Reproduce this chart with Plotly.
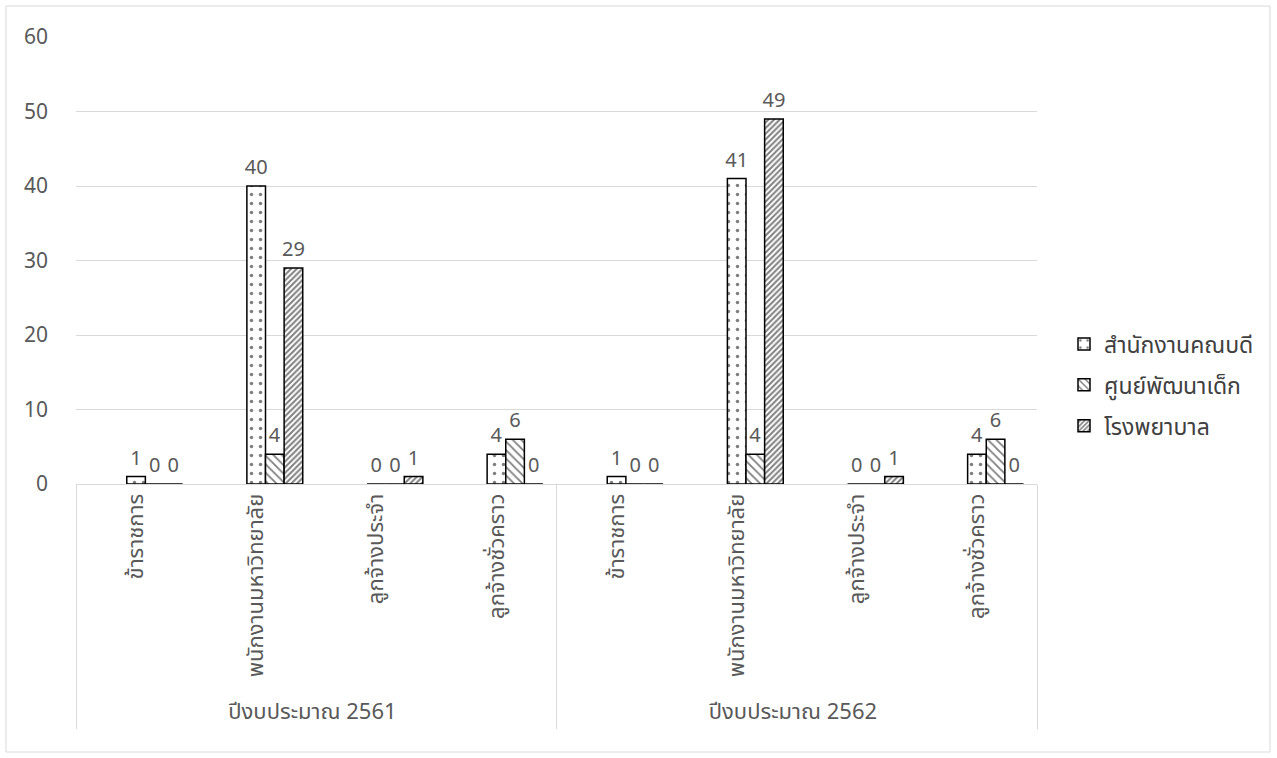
import plotly.graph_objects as go

years = ["ปีงบประมาณ 2561"] * 4 + ["ปีงบประมาณ 2562"] * 4
staff_types = ["ข้าราชการ", "พนักงานมหาวิทยาลัย", "ลูกจ้างประจำ", "ลูกจ้างชั่วคราว"] * 2

series_names = ["สำนักงานคณบดี", "ศูนย์พัฒนาเด็ก", "โรงพยาบาล"]
office = [1, 40, 0, 4, 1, 41, 0, 4]
childcare = [0, 4, 0, 6, 0, 4, 0, 6]
hospital = [0, 29, 1, 0, 0, 49, 1, 0]

y_ticks = [0, 10, 20, 30, 40, 50, 60]

FONT = "Noto Sans Thai, Noto Sans, Tahoma, sans-serif"
GREY = "#595959"

bar_w = 0.155
styles = [
    dict(shape=".", size=9, solidity=0.12),
    dict(shape="\\", size=6, solidity=0.3),
    dict(shape="/", size=4, solidity=0.5),
]
offsets = [-bar_w / 2, bar_w / 2, 3 * bar_w / 2]

fig = go.Figure()
for i, (name, vals) in enumerate(zip(series_names, [office, childcare, hospital])):
    fig.add_trace(go.Bar(
        x=[years, staff_types], y=vals, name=name,
        width=bar_w, offset=offsets[i],
        marker=dict(color="white", line=dict(color="black", width=1.5),
                    pattern=dict(fgcolor="black", bgcolor="white", **styles[i])),
        text=vals, textposition="outside", cliponaxis=False, constraintext="none",
        textfont=dict(size=20, color=GREY, family=FONT),
        legendgroup=name,
    ))

W, H = 1277, 758
L, R, T, B = 76, 240, 37, 274
pw, ph = W - L - R, H - T - B

fig.update_layout(
    width=W, height=H,
    margin=dict(l=L, r=R, t=T, b=B),
    paper_bgcolor="white", plot_bgcolor="white",
    barmode="overlay",
    font=dict(family=FONT, color=GREY, size=18),
    legend=dict(x=(1064 - L) / pw, y=(484 - 385) / ph, yanchor="middle", xanchor="left",
                font=dict(size=23, color="#404040"), traceorder="grouped",
                tracegroupgap=8, itemwidth=30),
    showlegend=True,
)
fig.update_yaxes(range=[0, 60], tickvals=y_ticks, showgrid=True, gridcolor="#d9d9d9",
                 gridwidth=1, zeroline=False, showline=False, ticks="",
                 tickfont=dict(size=21, color=GREY), ticklabelstandoff=27)
fig.update_xaxes(type="multicategory", tickangle=-90, showline=True, linecolor="#d9d9d9",
                 showdividers=True, dividercolor="#d9d9d9", dividerwidth=1,
                 tickfont=dict(size=22, color=GREY), ticks="")
fig.add_shape(type="rect", xref="paper", yref="paper",
              x0=(6 - L) / pw, x1=(1270 - L) / pw, y0=-(752 - 484) / ph, y1=(484 - 6) / ph,
              line=dict(color="#d9d9d9", width=1), fillcolor="rgba(0,0,0,0)")

fig.write_html("out.html", config={"displayModeBar": False},
               post_script="document.body.style.margin='0';")
